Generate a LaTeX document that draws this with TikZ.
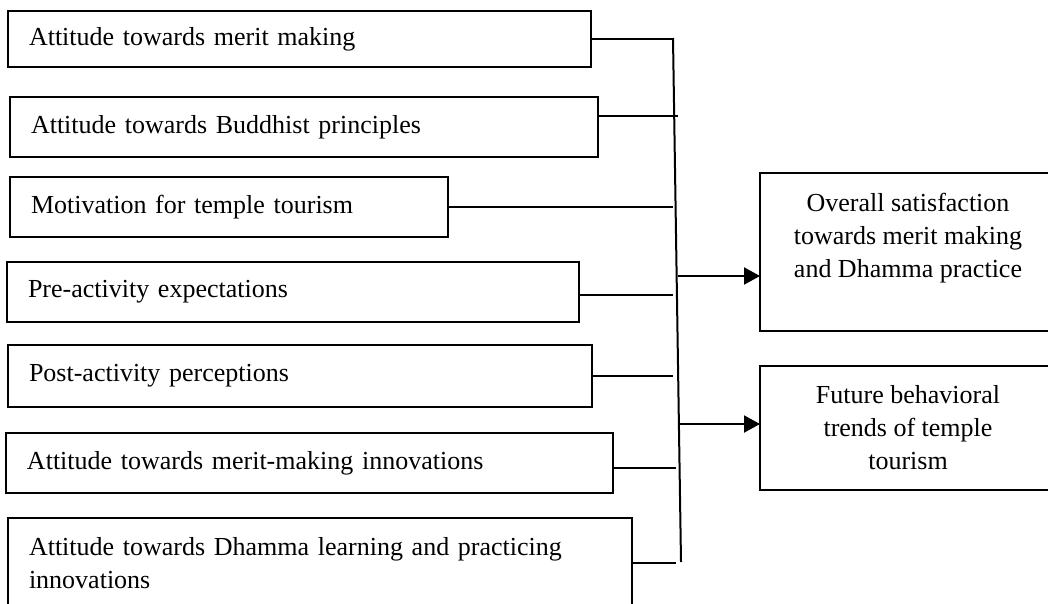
\documentclass[tikz,border=0pt]{standalone}
\usepackage{fontspec}
\setmainfont{Liberation Serif}
\usetikzlibrary{arrows.meta}

\begin{document}
\begin{tikzpicture}[x=1pt, y=-1pt,
    factor/.style={draw, rectangle, anchor=north west, outer sep=0pt,
      inner xsep=21pt, inner ysep=0pt, align=left, line width=1.8pt,
      font=\fontsize{26}{33}\selectfont},
    outcome/.style={draw, rectangle, anchor=north west, outer sep=0pt,
      inner sep=0pt, align=center, line width=1.8pt,
      font=\fontsize{26}{33}\selectfont},
    flow/.style={line width=2pt, -{Triangle[length=16pt,width=17pt]}}]

  \useasboundingbox (0,0) rectangle (1048,604);

  \begin{scope}[every node/.style={factor}]
    \node[minimum width=583pt, minimum height=56pt, text width=541pt] (b1) at (8,11)   {Attitude towards merit making};
    \node[minimum width=588pt, minimum height=60pt, text width=546pt] (b2) at (10,97)  {Attitude towards Buddhist principles};
    \node[minimum width=438pt, minimum height=60pt, text width=396pt] (b3) at (10,177) {Motivation for temple tourism};
    \node[minimum width=572pt, minimum height=60pt, text width=530pt] (b4) at (7,262)  {Pre-activity expectations};
    \node[minimum width=584pt, minimum height=62pt, text width=542pt] (b5) at (8,345)  {Post-activity perceptions};
    \node[minimum width=607pt, minimum height=60pt, text width=565pt] (b6) at (6,433)  {Attitude towards merit-making innovations};
    \node[minimum width=624pt, minimum height=90pt, text width=582pt] (b7) at (8,518)  {Attitude towards Dhamma learning and practicing\\innovations};
  \end{scope}

  \begin{scope}[every node/.style={outcome}]
    \node[minimum width=296pt, minimum height=158pt] (o1) at (760,173) {\rule{0pt}{28pt}Overall satisfaction\\towards merit making\\and Dhamma practice\\\strut};
    \node[minimum width=296pt, minimum height=124pt] (o2) at (760,366) {Future behavioral\\trends of temple\\tourism};
  \end{scope}

  % joining bar
  \coordinate (top) at (673,38);
  \coordinate (bot) at (681,562);
  \coordinate (j2) at (678,116);
  \coordinate (s1) at (678,276);
  \coordinate (s2) at (679,424);

  \begin{scope}[every edge/.style={draw, line width=2pt}]
    \path (top) edge (bot);
    \path (b1.east) edge (b1.east -| top);
    \path (j2 -| b2.east) edge (j2);
    \path (b3.east) edge (b3.east -| top);
    \path ([yshift=-3pt]b4.east) edge ([yshift=-3pt]b4.east -| top);
    \path (b5.east) edge (b5.east -| top);
    \path ([yshift=-5pt]b6.east) edge ([yshift=-5pt]b6.east -| 676,0);
    \path (b7.east) edge (b7.east -| 676,0);
  \end{scope}

  \draw[flow] (s1) -- (s1 -| o1.west);
  \draw[flow] (s2) -- (s2 -| o2.west);

\end{tikzpicture}
\end{document}
